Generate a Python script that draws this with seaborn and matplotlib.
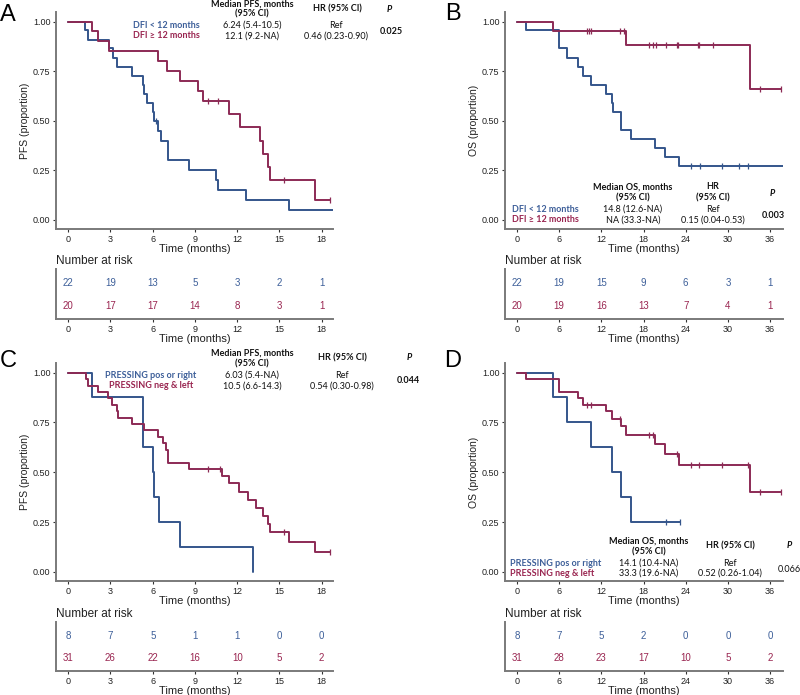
import numpy as np
import pandas as pd
import matplotlib
matplotlib.use("Agg")
import matplotlib.pyplot as plt
import seaborn as sns

# --- curve data (time in months, survival proportion) ---
a_blue_t = [0, 1.2, 1.4, 2.9, 3.2, 3.45, 4.5, 5.3, 5.4, 5.56, 6.0, 6.1, 6.4, 6.6, 7.05, 8.55, 10.5, 10.6, 12.63, 15.66, 18.8]
a_blue_s = [1, .955, .909, .864, .818, .773, .727, .682, .636, .591, .545, .50, .45, .40, .30, .25, .20, .15, .10, .05, .05]
a_blue_c = [6.2]
a_red_t = [0, 1.68, 2.1, 2.9, 6.37, 7.0, 7.95, 9.2, 9.6, 11.4, 12.2, 13.6, 13.8, 14.2, 14.3, 17.55, 18.6]
a_red_s = [1, .95, .90, .85, .80, .75, .70, .65, .60, .533, .467, .40, .333, .267, .20, .10, .10]
a_red_c = [9.9, 10.6, 15.3, 18.6]

b_blue_t = [0, 1.3, 6.0, 7.16, 8.7, 9.35, 10.5, 12.66, 13.5, 13.7, 14.75, 16.2, 19.6, 21.05, 23.1, 37.8]
b_blue_s = [1, .955, .864, .818, .773, .727, .682, .636, .591, .545, .455, .409, .364, .318, .273, .273]
b_blue_c = [24.7, 26.1, 29.1, 31.6, 32.8]
b_red_t = [0, 5.08, 15.46, 33.1, 37.6]
b_red_s = [1, .95, .882, .662, .662]
b_red_c = [9.9, 10.3, 10.5, 14.7, 15.2, 18.8, 19.3, 19.8, 21.2, 22.7, 22.9, 25.7, 25.9, 27.9, 34.6, 37.6]

c_blue_t = [0, 1.67, 5.3, 6.02, 6.1, 6.42, 7.9, 13.1]
c_blue_s = [1, .875, .625, .5, .375, .25, .125, 0]
c_blue_c = []
c_red_t = [0, 1.26, 1.43, 2.13, 2.85, 3.1, 3.44, 3.5, 4.5, 5.35, 6.4, 6.7, 6.93, 7.1, 8.55, 10.9,
           11.4, 12.16, 12.75, 13.3, 13.8, 14.2, 14.3, 15.7, 17.55, 18.6]
c_red_s = [1, .968, .935, .903, .871, .839, .806, .774, .742, .710, .677, .645, .613, .548, .516, .48,
           .447, .40, .36, .32, .28, .24, .20, .15, .10, .10]
c_red_c = [9.9, 10.8, 15.3, 18.6]

d_blue_t = [0, 5.15, 7.15, 10.5, 13.5, 14.75, 16.2, 23.2]
d_blue_s = [1, .875, .75, .625, .5, .375, .25, .25]
d_blue_c = [21.2, 23.2]
d_red_t = [0, 1.3, 6.0, 8.7, 9.35, 12.66, 13.5, 14.75, 15.46, 19.6, 21.05, 23.1, 33.1, 37.6]
d_red_s = [1, .968, .903, .871, .839, .805, .767, .73, .688, .64, .593, .538, .403, .403]
d_red_c = [9.9, 10.5, 14.6, 18.8, 19.3, 22.7, 24.7, 25.9, 29.1, 32.8, 34.6, 37.6]

# --- number at risk ---
ticks_pfs = [0, 3, 6, 9, 12, 15, 18]
ticks_os = [0, 6, 12, 18, 24, 30, 36]
a_risk_blue = [22, 19, 13, 5, 3, 2, 1]
a_risk_red = [20, 17, 17, 14, 8, 3, 1]
b_risk_blue = [22, 19, 15, 9, 6, 3, 1]
b_risk_red = [20, 19, 16, 13, 7, 4, 1]
c_risk_blue = [8, 7, 5, 1, 1, 0, 0]
c_risk_red = [31, 26, 22, 16, 10, 5, 2]
d_risk_blue = [8, 7, 5, 2, 0, 0, 0]
d_risk_red = [31, 28, 23, 17, 10, 5, 2]

yticks = [0.0, 0.25, 0.5, 0.75, 1.0]
ytick_labels = ["0.00", "0.25", "0.50", "0.75", "1.00"]

BLUE = "#34558b"
RED = "#8c2a55"
TBLUE = "#3d5f99"
TRED = "#992550"
GREY = "#7a7a7a"

sns.set_theme(style="ticks")
plt.rcParams["font.family"] = ["Liberation Sans", "DejaVu Sans"]

W, H = 800, 695
fig = plt.figure(figsize=(W / 100, H / 100), dpi=100)


def rect(l, t, r, b):
    return [l / W, 1 - b / H, (r - l) / W, (b - t) / H]


def ftext(x, y, s, **kw):
    fig.text(x / W, 1 - y / H, s, **kw)


def surv_at(t, times, surv):
    i = np.searchsorted(times, t, side="right") - 1
    return surv[i]


def style_axis(ax):
    sns.despine(ax=ax)
    for sp in ("left", "bottom"):
        ax.spines[sp].set_color(GREY)
        ax.spines[sp].set_linewidth(1.4)
    ax.tick_params(length=2.5, width=0.8, color="#333333", labelsize=6.5,
                   labelcolor="#222222", pad=1.5)


def km_panel(box, xlim, xticks, curves, ylabel):
    ax = fig.add_axes(rect(*box))
    for times, surv, cens, col in curves:
        df = pd.DataFrame({"t": times, "s": surv})
        sns.lineplot(data=df, x="t", y="s", drawstyle="steps-post", color=col,
                     lw=1.4, estimator=None, ax=ax)
        if cens:
            cy = [surv_at(c, times, surv) for c in cens]
            sns.scatterplot(x=cens, y=cy, marker="|", s=22, color=col,
                            linewidth=0.9, ax=ax)
    ax.set_xlim(*xlim)
    ax.set_ylim(-0.046, 1.048)
    ax.set_xticks(xticks)
    ax.set_yticks(yticks)
    ax.set_yticklabels(ytick_labels)
    ax.set_xlabel("Time (months)", fontsize=8, labelpad=0.5, color="#222222")
    ax.set_ylabel(ylabel, fontsize=7.5, labelpad=2, color="#222222")
    style_axis(ax)
    return ax


def risk_panel(box, xlim, xticks, blue, red):
    ax = fig.add_axes(rect(*box))
    ax.set_xlim(*xlim)
    ax.set_ylim(0, 1)
    for x, b, r in zip(xticks, blue, red):
        ax.text(x, 0.72, str(b), color=TBLUE, fontsize=7, ha="center", va="center")
        ax.text(x, 0.26, str(r), color=TRED, fontsize=7, ha="center", va="center")
    ax.set_xticks(xticks)
    ax.set_yticks([])
    ax.set_xlabel("Time (months)", fontsize=8, labelpad=0.5, color="#222222")
    style_axis(ax)
    ax.text(0, 1.04, "Number at risk", transform=ax.transAxes, fontsize=8.5,
            color="#222222", ha="left", va="bottom")
    return ax


xlim_pfs = (-0.87, 18.8)
xlim_os = (-1.7, 37.84)

km_panel((56, 12, 333, 229), xlim_pfs, ticks_pfs,
         [(a_blue_t, a_blue_s, a_blue_c, BLUE), (a_red_t, a_red_s, a_red_c, RED)],
         "PFS (proportion)")
risk_panel((56, 269, 333, 319), xlim_pfs, ticks_pfs, a_risk_blue, a_risk_red)

km_panel((505, 12, 783, 229), xlim_os, ticks_os,
         [(b_blue_t, b_blue_s, b_blue_c, BLUE), (b_red_t, b_red_s, b_red_c, RED)],
         "OS (proportion)")
risk_panel((505, 269, 783, 319), xlim_os, ticks_os, b_risk_blue, b_risk_red)

km_panel((56, 363, 333, 581), xlim_pfs, ticks_pfs,
         [(c_blue_t, c_blue_s, c_blue_c, BLUE), (c_red_t, c_red_s, c_red_c, RED)],
         "PFS (proportion)")
risk_panel((56, 622, 333, 671), xlim_pfs, ticks_pfs, c_risk_blue, c_risk_red)

km_panel((505, 363, 783, 581), xlim_os, ticks_os,
         [(d_blue_t, d_blue_s, d_blue_c, BLUE), (d_red_t, d_red_s, d_red_c, RED)],
         "OS (proportion)")
risk_panel((505, 622, 783, 671), xlim_os, ticks_os, d_risk_blue, d_risk_red)

# --- panel letters ---
for x, y, s in [(8, 15, "A"), (453, 14, "B"), (8, 361, "C"), (453, 361, "D")]:
    ftext(x, y, s, fontsize=17, ha="center", va="center", color="black")

# --- annotation tables ---
AF = ["Lato", "DejaVu Sans"]
fs = 6.5
kb = dict(fontsize=fs, family=AF, ha="center", va="center", fontweight="bold", color="#111111")
kn = dict(fontsize=fs, family=AF, ha="center", va="center", color="#111111")

# A
ftext(252, 4, "Median PFS, months", **kb)
ftext(252, 14, "(95% CI)", **kb)
ftext(337, 9, "HR (95% CI)", **kb)
ftext(389, 9, "P", style="italic", **kb)
ftext(166, 25, "DFI < 12 months", **{**kb, "color": TBLUE})
ftext(166, 36, "DFI \u2265 12 months", **{**kb, "color": TRED})
ftext(252, 25, "6.24 (5.4-10.5)", **kn)
ftext(252, 36, "12.1 (9.2-NA)", **kn)
ftext(336, 25, "Ref", **kn)
ftext(336, 36, "0.46 (0.23-0.90)", **kn)
ftext(391, 32, "0.025", **kb)

# B
ftext(633, 187, "Median OS, months", **kb)
ftext(633, 198, "(95% CI)", **kb)
ftext(713, 187, "HR", **kb)
ftext(713, 198, "(95% CI)", **kb)
ftext(772, 193, "P", style="italic", **kb)
ftext(545, 209, "DFI < 12 months", **{**kb, "color": TBLUE})
ftext(545, 220, "DFI \u2265 12 months", **{**kb, "color": TRED})
ftext(633, 209, "14.8 (12.6-NA)", **kn)
ftext(633, 220, "NA (33.3-NA)", **kn)
ftext(713, 209, "Ref", **kn)
ftext(713, 220, "0.15 (0.04-0.53)", **kn)
ftext(773, 215, "0.003", **kb)

# C
ftext(252, 353, "Median PFS, months", **kb)
ftext(252, 364, "(95% CI)", **kb)
ftext(342, 358, "HR (95% CI)", **kb)
ftext(409, 358, "P", style="italic", **kb)
ftext(151, 375, "PRESSING pos or right", **{**kb, "color": TBLUE})
ftext(151, 386, "PRESSING neg & left", **{**kb, "color": TRED})
ftext(252, 375, "6.03 (5.4-NA)", **kn)
ftext(252, 386, "10.5 (6.6-14.3)", **kn)
ftext(342, 375, "Ref", **kn)
ftext(342, 386, "0.54 (0.30-0.98)", **kn)
ftext(408, 381, "0.044", **kb)

# D
ftext(649, 541, "Median OS, months", **kb)
ftext(649, 552, "(95% CI)", **kb)
ftext(730, 546, "HR (95% CI)", **kb)
ftext(789, 546, "P", style="italic", **kb)
ftext(510, 563, "PRESSING pos or right", **{**kb, "color": TBLUE, "ha": "left"})
ftext(510, 573, "PRESSING neg & left", **{**kb, "color": TRED, "ha": "left"})
ftext(649, 563, "14.1 (10.4-NA)", **kn)
ftext(649, 573, "33.3 (19.6-NA)", **kn)
ftext(730, 563, "Ref", **kn)
ftext(730, 573, "0.52 (0.26-1.04)", **kn)
ftext(789, 569, "0.066", **kn)

fig.savefig("out.png", dpi=100)
